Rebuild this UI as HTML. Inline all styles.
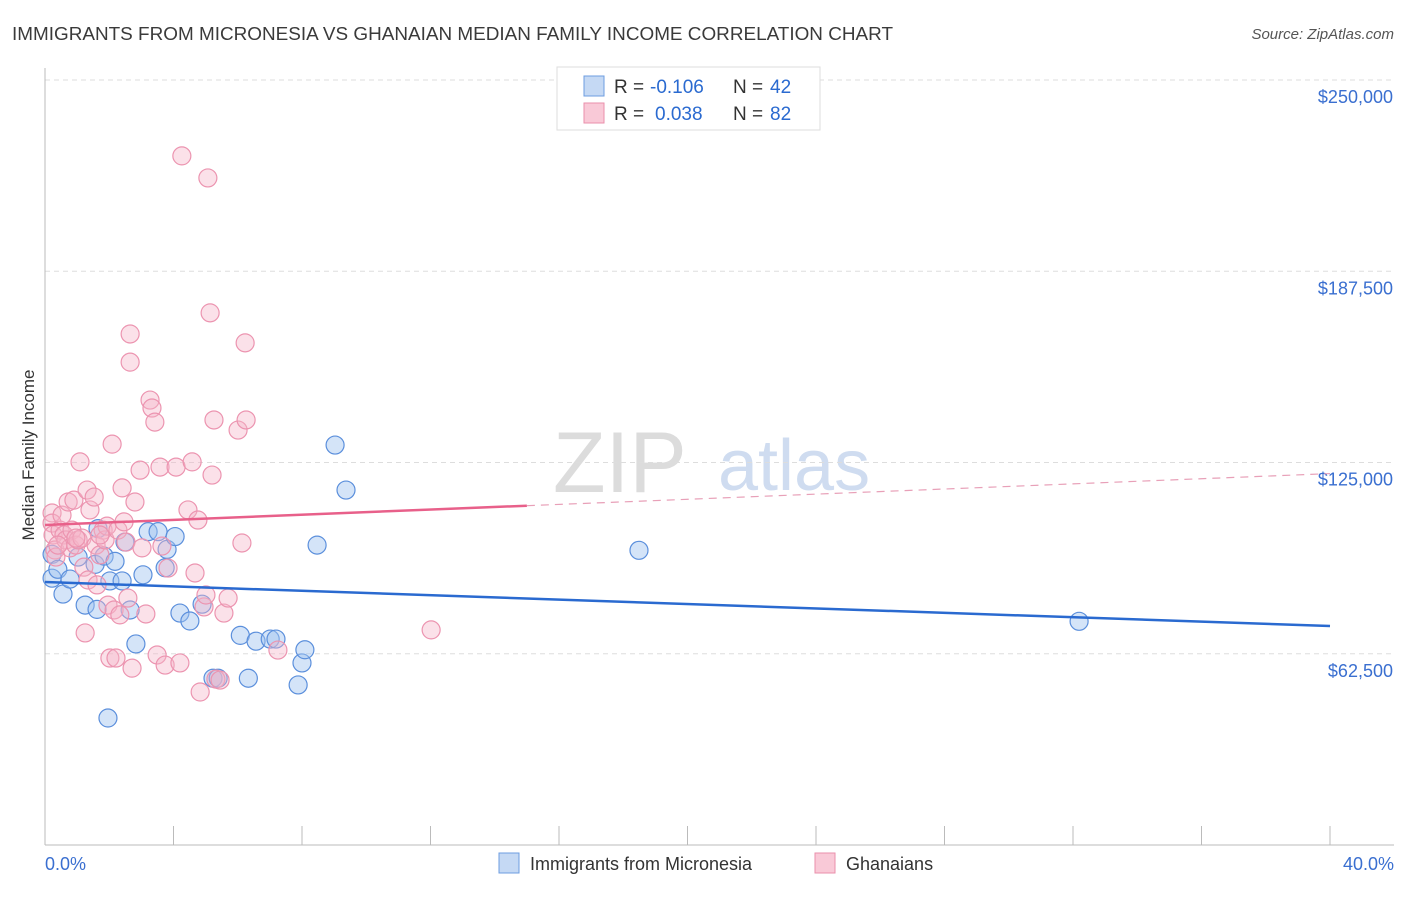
<!DOCTYPE html>
<html><head><meta charset="utf-8"><style>
body{margin:0;background:#fff;font-family:"Liberation Sans",sans-serif;}
svg text{font-family:"Liberation Sans",sans-serif;}
</style></head><body>
<svg id="chart" width="1406" height="892" xmlns="http://www.w3.org/2000/svg">
<text x="12" y="40" font-size="18" fill="#3a3a3a" textLength="881" lengthAdjust="spacingAndGlyphs">IMMIGRANTS FROM MICRONESIA VS GHANAIAN MEDIAN FAMILY INCOME CORRELATION CHART</text>
<text x="1394" y="39" font-size="15" fill="#555" text-anchor="end" font-style="italic">Source: ZipAtlas.com</text>
<text x="553" y="492" font-size="86" fill="#dcdcdc" font-family="Liberation Serif">ZIP</text>
<text x="718" y="490" font-size="72" fill="#cfdcf0">atlas</text>
<g id="grid"></g>
<g id="axes"></g>
<g id="pts"></g>
<g id="trends"></g>
<text transform="translate(34,455) rotate(-90)" font-size="17" fill="#333" text-anchor="middle">Median Family Income</text>
<g>
<rect x="557" y="67" width="263" height="63" fill="#fff" stroke="#ddd"/>
<rect x="584" y="76" width="20" height="20" fill="#c5d9f4" stroke="#6d9de0"/>
<rect x="584" y="103" width="20" height="20" fill="#f9c9d7" stroke="#ea8fab"/>
<text x="614" y="93" font-size="19" fill="#333">R =</text>
<text x="650" y="93" font-size="19" fill="#2a6ad0">-0.106</text>
<text x="733" y="93" font-size="19" fill="#333">N =</text>
<text x="770" y="93" font-size="19" fill="#2a6ad0">42</text>
<text x="614" y="120" font-size="19" fill="#333">R =</text>
<text x="655" y="120" font-size="19" fill="#2a6ad0">0.038</text>
<text x="733" y="120" font-size="19" fill="#333">N =</text>
<text x="770" y="120" font-size="19" fill="#2a6ad0">82</text>
</g>
<g>
<rect x="499" y="853" width="20" height="20" fill="#c5d9f4" stroke="#6d9de0"/>
<text x="530" y="870" font-size="18" fill="#333">Immigrants from Micronesia</text>
<rect x="815" y="853" width="20" height="20" fill="#f9c9d7" stroke="#ea8fab"/>
<text x="846" y="870" font-size="18" fill="#333">Ghanaians</text>
</g>
</svg>
<script>
const yTicks=[62500,125000,187500,250000];
const yTickLabels=["$62,500","$125,000","$187,500","$250,000"];
const xTickLabels=["0.0%","40.0%"];
const blueX=[0.22,0.22,0.40,0.56,0.78,1.03,1.25,1.56,1.65,1.84,1.96,2.02,2.18,2.40,2.49,2.65,2.83,3.05,3.21,3.52,3.80,4.05,4.20,4.51,4.89,5.23,5.39,6.08,6.33,6.57,7.01,7.19,7.88,8.00,8.09,8.47,9.03,9.37,18.49,32.19,3.74,1.62];
const blueY=[95000,87200,90100,82000,86900,94100,78400,91700,103400,94400,41500,86300,92700,86300,99000,76800,65700,88300,102400,102400,96600,100800,75800,73200,78700,54500,54500,68500,54500,66600,67300,67300,52300,59500,63800,98000,130700,116000,96300,73100,90600,77000];
const pinkX=[0.22,0.22,0.25,0.31,0.34,0.47,0.53,0.59,0.65,0.72,0.78,0.84,0.90,0.96,1.03,1.09,1.15,1.21,1.25,1.31,1.34,1.40,1.53,1.59,1.62,1.71,1.81,1.87,1.93,1.96,2.02,2.09,2.15,2.21,2.27,2.33,2.40,2.46,2.52,2.58,2.65,2.65,2.71,2.80,2.96,3.02,3.14,3.27,3.33,3.42,3.49,3.58,3.64,3.74,3.83,4.08,4.20,4.26,4.45,4.58,4.67,4.76,4.83,4.95,5.01,5.07,5.14,5.20,5.26,5.32,5.45,5.57,5.70,6.01,6.13,6.23,6.26,7.25,12.02,0.96,1.71,0.40];
const pinkY=[108500,105200,101300,96400,94100,102900,107800,101300,99700,112100,97100,102900,112700,98000,99700,125200,100300,90800,69300,116000,86600,109500,113700,98000,85000,94800,102900,99700,104200,78400,61100,131000,76800,61100,102900,75200,116700,105600,99000,80700,167000,157800,57800,112100,122500,97100,75500,145400,142800,138200,62100,123500,97700,58800,90500,123500,59500,225200,109500,125200,88900,106200,50000,77800,81700,218000,173900,120900,138900,54200,53900,75800,80700,135600,98700,164100,138900,63700,70300,100300,101300,98000];
const trendIntercept=[85950,104580];
const trendSlope=[-360,420];
const X0=45,X1=1330,Yb=845,Yt=80;
const sx=v=>X0+(v/40)*(X1-X0);
const sy=v=>Yb-(v/250000)*(Yb-Yt);
const NS="http://www.w3.org/2000/svg";
function mk(p,t,a){const e=document.createElementNS(NS,t);for(const k in a)e.setAttribute(k,a[k]);p.appendChild(e);return e;}
const grid=document.getElementById('grid'),axes=document.getElementById('axes');
yTicks.forEach((t,i)=>{
 const g=mk(grid,'line',{x1:X0,x2:1394,y1:sy(t),y2:sy(t),stroke:'#ddd','stroke-dasharray':'5,4'});
 
 
 const l=mk(axes,'text',{x:1393,y:sy(t)+23,'font-size':18,fill:'#3a6fd0','text-anchor':'end'});
 l.textContent=yTickLabels[i];
 
 
});
const ax=mk(axes,'line',{x1:X0,x2:X0,y1:68,y2:Yb,stroke:'#bbb'});


const bx=mk(axes,'line',{x1:X0,x2:1394,y1:Yb,y2:Yb,stroke:'#bbb'});


for(let i=0;i<=10;i++){
 const t=mk(axes,'line',{x1:sx(i*4),x2:sx(i*4),y1:826,y2:Yb,stroke:'#bbb'});
 
 
}
[[X0,'start',0],[1394,'end',1]].forEach(([x,a,i])=>{
 const l=mk(axes,'text',{x:x,y:870,'font-size':18,fill:'#3a6fd0','text-anchor':a});
 l.textContent=xTickLabels[i];
 
 
});
const pts=document.getElementById('pts');
blueX.forEach((v,i)=>{
 const c=mk(pts,'circle',{cx:sx(v),cy:sy(blueY[i]),r:9,fill:'rgba(160,196,240,0.45)',stroke:'#5b8fdc','stroke-width':1.2});
 
 
});
pinkX.forEach((v,i)=>{
 const c=mk(pts,'circle',{cx:sx(v),cy:sy(pinkY[i]),r:9,fill:'rgba(246,180,200,0.4)',stroke:'#ec94b0','stroke-width':1.2});
 
 
});
const tr=document.getElementById('trends');
const f=(k,x)=>trendIntercept[k]+trendSlope[k]*x;
const bl=mk(tr,'line',{x1:sx(0),y1:sy(f(0,0)),x2:sx(40),y2:sy(f(0,40)),stroke:'#2a6ad0','stroke-width':2.5});


const pl=mk(tr,'line',{x1:sx(0),y1:sy(f(1,0)),x2:sx(15),y2:sy(f(1,15)),stroke:'#e8608a','stroke-width':2.5});


const pd=mk(tr,'line',{x1:sx(15),y1:sy(f(1,15)),x2:sx(40),y2:sy(f(1,40)),stroke:'#e8a0b8','stroke-width':1.2,'stroke-dasharray':'8,6'});


</script>
</body></html>
